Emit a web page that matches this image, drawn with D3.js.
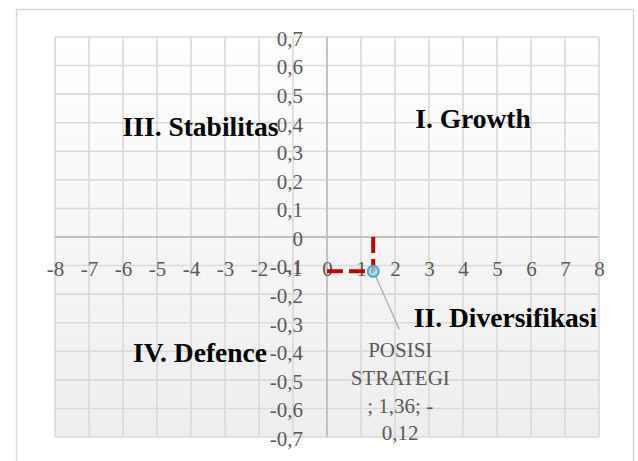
<!DOCTYPE html>
<html>
<head>
<meta charset="utf-8">
<script src="https://cdn.jsdelivr.net/npm/d3@7"></script>
<style>
  html, body { margin: 0; padding: 0; background: #ffffff; }
  svg { display: block; }
</style>
</head>
<body>
<svg id="chart" width="638" height="461"></svg>
<script>
// Strategic position matrix (Growth / Stabilitas / Diversifikasi / Defence)
const xTicks = [-8, -7, -6, -5, -4, -3, -2, -1, 0, 1, 2, 3, 4, 5, 6, 7, 8];
const yTicks = [-0.7, -0.6, -0.5, -0.4, -0.3, -0.2, -0.1, 0, 0.1, 0.2, 0.3, 0.4, 0.5, 0.6, 0.7];
const xTickLabels = ["-8", "-7", "-6", "-5", "-4", "-3", "-2", "-1", "0", "1", "2", "3", "4", "5", "6", "7", "8"];
const yTickLabels = ["-0,7", "-0,6", "-0,5", "-0,4", "-0,3", "-0,2", "-0,1", "0", "0,1", "0,2", "0,3", "0,4", "0,5", "0,6", "0,7"];

const pointName = "POSISI STRATEGI";
const pointX = [1.36];
const pointY = [-0.12];

const quadrantNames = ["I. Growth", "II. Diversifikasi", "III. Stabilitas", "IV. Defence"];

const W = 638, H = 461;
const svg = d3.select("#chart");

const x = d3.scaleLinear().domain([-8, 8]).range([55, 599]);
const y = d3.scaleLinear().domain([-0.7, 0.7]).range([437, 37]);

const fmt = v => String(+v.toFixed(2)).replace(".", ",");

// chart area frame
svg.append("rect")
  .attr("x", 16.5).attr("y", 9.5)
  .attr("width", 617).attr("height", 470)
  .attr("fill", "#ffffff")
  .attr("stroke", "#d9d9d9").attr("stroke-width", 1.5);

// plot area background
const defs = svg.append("defs");
const grad = defs.append("linearGradient").attr("id", "plotBg")
  .attr("x1", 0).attr("y1", 0).attr("x2", 0).attr("y2", 1);
grad.append("stop").attr("offset", "0%").attr("stop-color", "#ffffff");
grad.append("stop").attr("offset", "100%").attr("stop-color", "#ededed");

svg.append("rect")
  .attr("x", x(-8)).attr("y", y(0.7))
  .attr("width", x(8) - x(-8)).attr("height", y(-0.7) - y(0.7))
  .attr("fill", "url(#plotBg)");

// gridlines
const grid = svg.append("g").attr("stroke", "#d9d9d9").attr("stroke-width", 1.6);
grid.selectAll("line.v").data(xTicks).join("line").attr("class", "v")
  .attr("x1", d => x(d)).attr("x2", d => x(d))
  .attr("y1", y(0.7)).attr("y2", y(-0.7));
grid.selectAll("line.h").data(yTicks).join("line").attr("class", "h")
  .attr("x1", x(-8)).attr("x2", x(8))
  .attr("y1", d => y(d)).attr("y2", d => y(d));

// axis lines crossing at the origin
svg.append("line")
  .attr("x1", x(-8)).attr("x2", x(8)).attr("y1", y(0)).attr("y2", y(0))
  .attr("stroke", "#bfbfbf").attr("stroke-width", 1.8);
svg.append("line")
  .attr("x1", x(0)).attr("x2", x(0)).attr("y1", y(0.7)).attr("y2", y(-0.7))
  .attr("stroke", "#bfbfbf").attr("stroke-width", 1.8);

// tick labels
const xAxis = d3.axisBottom(x).tickValues(xTicks)
  .tickFormat((d, i) => xTickLabels[i]).tickSize(0).tickPadding(24);
const yAxis = d3.axisLeft(y).tickValues(yTicks)
  .tickFormat((d, i) => yTickLabels[i]).tickSize(0).tickPadding(24);

const gx = svg.append("g").attr("transform", `translate(0,${y(0)})`).call(xAxis);
const gy = svg.append("g").attr("transform", `translate(${x(0)},0)`).call(yAxis);
[gx, gy].forEach(g => {
  g.select(".domain").remove();
  g.selectAll("text")
    .attr("fill", "#595959")
    .style("font-family", "'Liberation Serif', serif")
    .style("font-size", "21px");
});
gy.selectAll("text").attr("dy", "0.4em");

// dashed guide lines from the axes to the position
const guides = svg.append("g")
  .attr("stroke", "#c00000").attr("stroke-width", 4)
  .attr("stroke-dasharray", "16,6").attr("fill", "none");
guides.selectAll("line.gv").data(pointX.map((v, i) => [v, pointY[i]])).join("line")
  .attr("class", "gv")
  .attr("x1", d => x(d[0])).attr("x2", d => x(d[0]))
  .attr("y1", y(0)).attr("y2", d => y(d[1]));
guides.selectAll("line.gh").data(pointX.map((v, i) => [v, pointY[i]])).join("line")
  .attr("class", "gh")
  .attr("x1", x(0)).attr("x2", d => x(d[0]))
  .attr("y1", d => y(d[1])).attr("y2", d => y(d[1]));

// data label with leader line
const labelCx = x(pointX[0]) + 27, labelTop = y(pointY[0]) + 86;
svg.append("line")
  .attr("x1", x(pointX[0]) + 2).attr("y1", y(pointY[0]) + 4)
  .attr("x2", labelCx - 1).attr("y2", labelTop - 28)
  .attr("stroke", "#a6a6a6").attr("stroke-width", 1.2);

const labelLines = pointName.split(" ").concat([`; ${fmt(pointX[0])}; -`, fmt(Math.abs(pointY[0]))]);
svg.append("text")
  .attr("text-anchor", "middle")
  .attr("fill", "#595959")
  .style("font-family", "'Liberation Serif', serif")
  .style("font-size", "21px")
  .selectAll("tspan").data(labelLines).join("tspan")
  .attr("x", labelCx)
  .attr("y", (d, i) => labelTop + i * 27.7)
  .text(d => d);

// the position marker
svg.selectAll("circle.pt").data(pointX.map((v, i) => [v, pointY[i]])).join("circle")
  .attr("class", "pt")
  .attr("cx", d => x(d[0])).attr("cy", d => y(d[1]))
  .attr("r", 5.5)
  .attr("fill", "#9dd0e0").attr("fill-opacity", 0.8)
  .attr("stroke", "#4bacc6").attr("stroke-width", 2);

// quadrant captions
const quadPos = [
  { cx: 473, by: 128 },
  { cx: 505.5, by: 327 },
  { cx: 200.5, by: 136 },
  { cx: 200, by: 362 }
];
svg.append("g")
  .style("font-family", "'Liberation Serif', serif")
  .style("font-size", "27.5px")
  .style("font-weight", "bold")
  .attr("fill", "#000000")
  .attr("text-anchor", "middle")
  .selectAll("text").data(quadrantNames).join("text")
  .attr("x", (d, i) => quadPos[i].cx)
  .attr("y", (d, i) => quadPos[i].by)
  .text(d => d);
</script>
</body>
</html>
